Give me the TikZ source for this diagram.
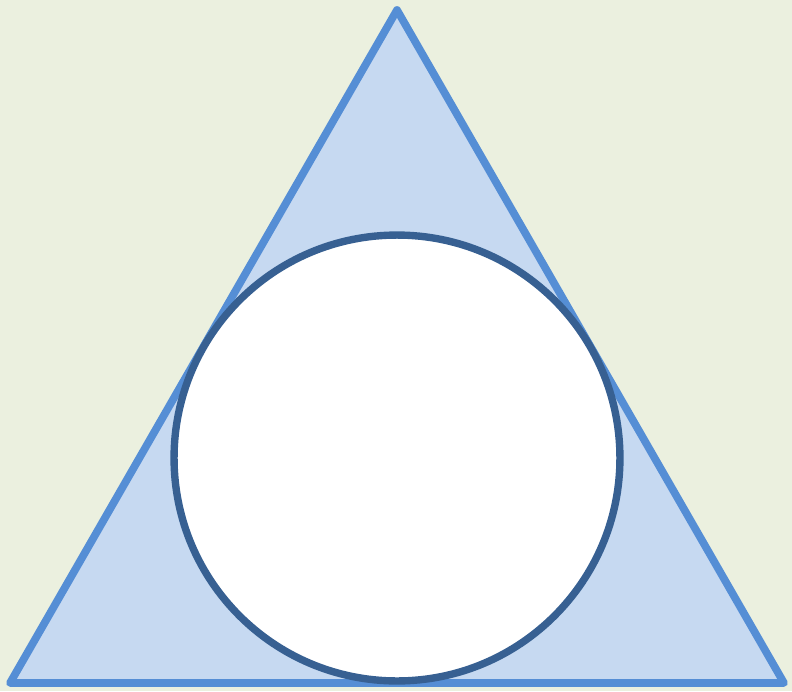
\documentclass[tikz,border=0pt]{standalone}
\usepackage{tikz}
\usetikzlibrary{positioning}

\definecolor{bgpaper}{HTML}{EBF0DF}
\definecolor{trifill}{HTML}{C6D9F1}
\definecolor{triline}{HTML}{558ED5}
\definecolor{ringline}{HTML}{376092}

\begin{document}
\begin{tikzpicture}[x=0.02cm,y=-0.02cm]
\tikzstyle{tri}=[draw=triline,fill=trifill,line width=4.4pt,line join=round]
\tikzstyle{ring}=[circle,draw=ringline,fill=white,line width=4.2pt,minimum size=8.92cm,inner sep=0pt]
\fill[bgpaper] (0,0) rectangle (792,691);
\useasboundingbox (0,0) rectangle (792,691);
\coordinate (top) at (397,10);
\coordinate (left) at (10,683);
\coordinate (right) at (784,683);
\draw[tri] (top) -- (left) -- (right) -- cycle;
\node[ring] (inner) at (397,458) {};
\end{tikzpicture}
\end{document}
